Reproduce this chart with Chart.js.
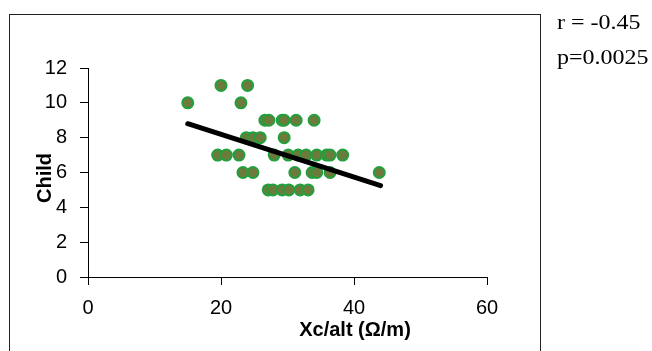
<!DOCTYPE html>
<html>
<head>
<meta charset="utf-8">
<script src="https://cdn.jsdelivr.net/npm/chart.js@4"></script>
<style>
  html, body { margin: 0; padding: 0; background: #fff; }
  #wrap { width: 652px; height: 351px; }
</style>
</head>
<body>
<div id="wrap"><canvas id="scatterChart" width="652" height="351"></canvas></div>
<script>
// Xc/alt values, one per child
const xcAlt = [
    20, 24,
    15, 23,
    26.6, 27.2, 29.2, 29.5, 31.3, 34.0,
    23.8, 24.8, 25.9, 29.5,
    19.5, 20.8, 22.7, 28.0, 30.1, 31.6, 32.8, 34.4, 35.9, 36.4, 38.3,
    23.3, 24.8, 31.1, 33.7, 34.4, 36.4, 43.8,
    27.1, 27.8, 29.2, 30.2, 31.9, 33.1
];
const childScore = [
    11, 11,
    10, 10,
    9, 9, 9, 9, 9, 9,
    8, 8, 8, 8,
    7, 7, 7, 7, 7, 7, 7, 7, 7, 7, 7,
    6, 6, 6, 6, 6, 6, 6,
    5, 5, 5, 5, 5, 5
];
// trend line end points
const trendX = [15, 44];
const trendY = [8.8, 5.25];

const xTicks = [0, 20, 40, 60];
const yTicks = [0, 2, 4, 6, 8, 10, 12];
const statLines = ['r = -0.45', 'p=0.0025'];

const points = xcAlt.map((x, i) => ({ x: x, y: childScore[i] }));
const trend = trendX.map((x, i) => ({ x: x, y: trendY[i] }));

// frame, axis titles and r/p text
const extras = {
    id: 'extras',
    afterDraw(chart) {
        const ctx = chart.ctx;
        ctx.save();
        ctx.strokeStyle = '#222';
        ctx.lineWidth = 1;
        ctx.strokeRect(9.5, 14.5, 531, 400);

        ctx.fillStyle = '#000';
        ctx.font = 'bold 20px "Liberation Sans", Arial, sans-serif';
        ctx.textAlign = 'center';
        ctx.textBaseline = 'middle';
        ctx.fillText('Xc/alt (Ω/m)', 355, 330);

        ctx.save();
        ctx.translate(45, 178);
        ctx.rotate(-Math.PI / 2);
        ctx.fillText('Child', 0, 0);
        ctx.restore();

        ctx.font = '20px "Liberation Serif", "Times New Roman", serif';
        ctx.textAlign = 'left';
        ctx.textBaseline = 'alphabetic';
        statLines.forEach((t, i) => {
            ctx.save();
            ctx.translate(557, 29 + i * 35);
            ctx.scale(1.2, 1);
            ctx.fillText(t, 0, 0);
            ctx.restore();
        });
        ctx.restore();
    }
};

const tickFont = { family: '"Liberation Sans", Arial, sans-serif', size: 20 };

new Chart(document.getElementById('scatterChart').getContext('2d'), {
    type: 'scatter',
    data: {
        datasets: [
            {
                type: 'line',
                data: trend,
                borderColor: '#000',
                borderWidth: 5,
                pointRadius: 0,
                borderCapStyle: 'round',
                fill: false,
                order: 0
            },
            {
                data: points,
                backgroundColor: '#6d7a3b',
                borderColor: '#22a03e',
                borderWidth: 2,
                pointRadius: 5.5,
                order: 1
            }
        ]
    },
    options: {
        responsive: false,
        animation: false,
        layout: { padding: { left: 0, top: 68, right: 165, bottom: 0 } },
        plugins: {
            legend: { display: false },
            tooltip: { enabled: false }
        },
        scales: {
            x: {
                type: 'linear',
                min: 0,
                max: 60,
                afterFit: s => { s.height = 74; },
                afterBuildTicks: s => { s.ticks = xTicks.map(v => ({ value: v })); },
                border: { display: true, color: '#000', width: 1 },
                grid: { drawOnChartArea: false, drawTicks: true, tickLength: 8, color: '#000' },
                ticks: { color: '#000', font: tickFont, padding: 11, maxRotation: 0 }
            },
            y: {
                type: 'linear',
                min: 0,
                max: 12,
                afterFit: s => { s.width = 88; },
                afterBuildTicks: s => { s.ticks = yTicks.map(v => ({ value: v })); },
                border: { display: true, color: '#000', width: 1 },
                grid: { drawOnChartArea: false, drawTicks: true, tickLength: 8, color: '#000' },
                ticks: { color: '#000', font: tickFont, padding: 13 }
            }
        }
    },
    plugins: [extras]
});
</script>
</body>
</html>
